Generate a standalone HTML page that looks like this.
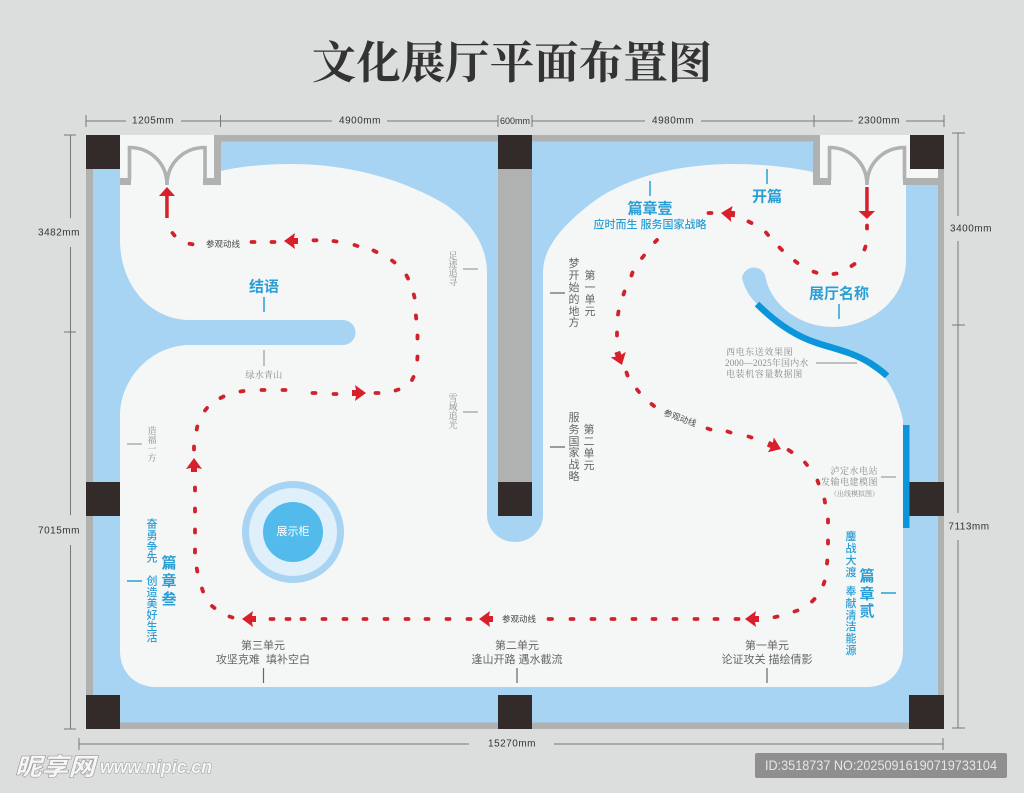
<!DOCTYPE html>
<html lang="zh"><head><meta charset="utf-8"><title>文化展厅平面布置图</title>
<style>
html,body{margin:0;padding:0;background:#dcdddd}
svg{display:block}
text{font-family:"Liberation Sans","Noto Sans CJK SC",sans-serif}
.dim{font-size:10px;letter-spacing:.5px;fill:#333;text-anchor:middle;dominant-baseline:central}
.bl{fill:#2a9fd6;font-weight:700;font-size:15px;text-anchor:middle;dominant-baseline:central}
.bs{fill:#2a9fd6;font-size:11px;font-weight:500;text-anchor:middle;dominant-baseline:central}
.g{fill:#666;font-size:11px}
.gc{text-anchor:middle;dominant-baseline:central}
.sf{font-family:"Liberation Serif","Noto Serif CJK SC",serif;fill:#8a8a8a;font-size:9px}
.rt{fill:#444;font-size:8.5px;text-anchor:middle;dominant-baseline:central}
</style></head><body>
<svg width="1024" height="793" viewBox="0 0 1024 793" xmlns="http://www.w3.org/2000/svg">
<rect width="1024" height="793" fill="#dcdddd"/>
<text x="512" y="63" text-anchor="middle" dominant-baseline="central" style="font-family:'Liberation Serif','Noto Serif CJK SC',serif;font-weight:700;font-size:44.500px" fill="#333">文化展厅平面布置图</text>

<!-- dimension lines -->
<g stroke="#777" stroke-width="1" fill="none">
<path d="M86 121H126M181 121H332M387 121H498M532 121H645M701 121H853M906 121H944"/>
<path d="M86 115v12M220.5 115v12M498 115v12M532 115v12M814 115v12M944 115v12"/>
<path d="M70.500 135V218M70.500 247V515M70.500 545V729M64 135H76M64 332H76M64 729H76"/>
<path d="M958 133V216M958 241V513M958 540V728M952 133H965M952 325H965M952 728H965"/>
<path d="M79 744H469M554 744H943M79 738v12M943 738v12"/>
</g>
<text class="dim" x="153" y="121">1205mm</text>
<text class="dim" x="360" y="121">4900mm</text>
<text class="dim" x="515" y="121" style="font-size:9px;letter-spacing:0">600mm</text>
<text class="dim" x="673" y="121">4980mm</text>
<text class="dim" x="879" y="121">2300mm</text>
<text class="dim" x="59" y="233">3482mm</text>
<text class="dim" x="59" y="531">7015mm</text>
<text class="dim" x="971" y="229">3400mm</text>
<text class="dim" x="969" y="527">7113mm</text>
<text class="dim" x="512" y="744">15270mm</text>

<!-- blue base -->
<rect x="86" y="135" width="858" height="594" fill="#a6d4f2"/>
<!-- floor -->
<path fill="#f5f6f6" d="M120 135L214 135L214 171L221 171C245 165 275 164 293 164C345 164 400 178 443 203C470 220 487 245 487 272L487 515A28 27 0 0 0 543 515L543 272C543 250 560 225 600 197C640 172 690 164 733 164C760 164 790 167 813 172L820 135L910 135L910 169L938 169L938 178L906 178L906 260C906 300 870 327 833 327C800 327 770 305 765 275A12 12 0 0 0 742 278C745 290 750 297 757 304C775 322 795 336 817 343C835 349 852 352 870 363C880 370 895 385 903 420L903 651C903 672 888 687 867 687L156 687C135 687 120 672 120 651L120 415C120 380 150 345 190 345L343 345A12.500 12.500 0 0 0 343 320L190 320C150 320 120 285 120 240Z"/>
<!-- walls -->
<g fill="#b0b1b1">
<rect x="221" y="135" width="277" height="6.500"/>
<rect x="532" y="135" width="281" height="6.500"/>
<rect x="86" y="169" width="7" height="526"/>
<rect x="938" y="169" width="6" height="526"/>
<rect x="120" y="722.500" width="790" height="6.500"/>
<rect x="498" y="169" width="34" height="313"/>
<rect x="214" y="135" width="7" height="50"/>
<rect x="120" y="178" width="11" height="7"/>
<rect x="203" y="178" width="18" height="7"/>
<rect x="813" y="135" width="7" height="50"/>
<rect x="813" y="178" width="18" height="7"/>
<rect x="903" y="178" width="41" height="7"/>
</g>
<!-- doors -->
<g fill="none" stroke="#b0b1b1" stroke-width="3.600">
<path d="M129.500 180V147.500C150 147.500 167 163 167 185C167 163 184 147.500 205 147.500V180"/>
<path d="M829.500 180V147.500C850 147.500 867 163 867 185C867 163 884 147.500 904.500 147.500V180"/>
</g>
<!-- pillars -->
<g fill="#332a2a">
<rect x="86" y="135" width="34" height="34"/><rect x="498" y="135" width="34" height="34"/><rect x="910" y="135" width="34" height="34"/>
<rect x="86" y="482" width="34" height="34"/><rect x="498" y="482" width="34" height="34"/><rect x="909" y="482" width="35" height="34"/>
<rect x="86" y="695" width="34" height="34"/><rect x="498" y="695" width="34" height="34"/><rect x="909" y="695" width="35" height="34"/>
</g>
<!-- bright blue walls -->
<path d="M757 304C775 322 795 336 817 343C835 349 852 352 870 363C876 367 882 371 887 376" fill="none" stroke="#0b96dc" stroke-width="6.500"/>
<rect x="903" y="425" width="6.500" height="103" fill="#0b96dc"/>
<!-- showcase -->
<circle cx="293" cy="532" r="51" fill="#a6d4f2"/>
<circle cx="293" cy="532" r="44" fill="#dff0fa"/>
<circle cx="293" cy="532" r="30" fill="#52bbec"/>
<text x="293" y="532" text-anchor="middle" dominant-baseline="central" fill="#fff" font-size="11">展示柜</text>

<!-- route dashes -->
<path fill="none" stroke="#d2202c" stroke-width="3.800" stroke-linecap="round" d="
M867 225.500v3M865.500 246.500l-1 3M854.500 264l-3 2M836.500 273.500l-3 .5M816.500 272.700l-3-1M797.500 263l-2.500-2M782 250l-2.500-2.500M768 235l-2-2.500M751.500 223l-3-1.500
M711.500 213h-3M657 240l-2 2M644 255.500l-2 2.500M632.500 272.500l-1 3M624.500 291.500l-1 3M618.500 311.500l-.5 3M617 332.500v3M626.500 372.500l1 3M637 389.500l2 2.500M651.500 404l2.500 2
M707.500 428.500l3 1M727.500 431.500l3 1M748.500 436.500l3 1M788.500 450l3 2M805 462.500l2 2.500M817.500 480.500l1 3M824.500 499.500l.5 3M828 519.500v3M828 540.500v3M827.300 560.500l-.3 3M824.500 581.500l-1 3M814.500 599l-2.500 2.500M797.500 610.500l-3 1M777.500 616.500l-3 .7
M738.500 619h-3M717.500 619h-3M697.500 619h-3M676.500 619h-3M655.500 619h-3M635.500 619h-3M614.500 619h-3M594.500 619h-3M573.500 619h-3M552 619h-3.500
M470.500 619h-3M449.500 619h-3M428.500 619h-3M408.500 619h-3M387.500 619h-3M366.500 619h-3M346.500 619h-3M325.500 619h-3M304.500 619h-3M289.500 619h-3M273.500 619h-3
M232.500 617.500l-3-1M214.500 608l-2.500-2M203 591.500l-1-3M197.300 571.500l-.5-3M195 552.500v-3M195 532.500v-3M195 511.500v-3M195 490.500v-3
M194 449.500v-3M196.700 429.500l.6-3M205 410.500l2-2.500M220.500 398l3-1.500M240.500 391.500l3-.5M261.500 390h3M282.500 390h3M312.500 393h3M333.500 394h3M375.500 393h3M395.500 390.500l3-1M412 380l1.500-3M417.300 359.500l.2-3M417.500 338.500v-3M416.200 318.500l-.3-3M414.500 297.500l-.7-3M408 278.500l-1.500-3M394.500 262.500l-2.500-2M376.500 252l-3-1.500M357.500 246l-3-1M336.500 241.500l-3-.5M316.500 240.300h-3
M274.500 242h-3M254.500 242h-3M192.500 244.300l-3-.5M174.500 235.500l-2-2.500"/>
<!-- arrowheads -->
<g fill="#d7202b">
<path transform="translate(284 241) rotate(180)" d="M0 0L-11-8L-10-3L-14-3L-14 3L-10 3L-11 8Z"/>
<path transform="translate(366 393)" d="M0 0L-11-8L-10-3L-14-3L-14 3L-10 3L-11 8Z"/>
<path transform="translate(194 458) rotate(-90)" d="M0 0L-11-8L-10-3L-14-3L-14 3L-10 3L-11 8Z"/>
<path transform="translate(242 619) rotate(180)" d="M0 0L-11-8L-10-3L-14-3L-14 3L-10 3L-11 8Z"/>
<path transform="translate(479 619) rotate(180)" d="M0 0L-11-8L-10-3L-14-3L-14 3L-10 3L-11 8Z"/>
<path transform="translate(745 619) rotate(180)" d="M0 0L-11-8L-10-3L-14-3L-14 3L-10 3L-11 8Z"/>
<path transform="translate(781 449) rotate(22)" d="M0 0L-11-8L-10-3L-14-3L-14 3L-10 3L-11 8Z"/>
<path transform="translate(622 365) rotate(70)" d="M0 0L-11-8L-10-3L-14-3L-14 3L-10 3L-11 8Z"/>
<path transform="translate(721 213) rotate(185)" d="M0 0L-11-8L-10-3L-14-3L-14 3L-10 3L-11 8Z"/>
<rect x="865.200" y="187" width="3.500" height="25"/>
<path d="M858.500 211H875L867 219Z"/>
<rect x="165.200" y="195" width="3.500" height="23"/>
<path d="M159 196H175L167 187Z"/>
</g>
<text class="rt" x="223" y="244">参观动线</text>
<text class="rt" x="519" y="619">参观动线</text>
<text class="rt" transform="translate(680 418) rotate(20)">参观动线</text>

<!-- blue labels -->
<text class="bl" x="767" y="197">开篇</text>
<text class="bl" x="650" y="209">篇章壹</text>
<text class="bs" x="650" y="225">应时而生 服务国家战略</text>
<text class="bl" x="839" y="294">展厅名称</text>
<text class="bl" x="264" y="287">结语</text>
<g stroke="#2a9fd0" stroke-width="1.500" fill="none">
<path d="M767 169V184M650 181V196M839 304V319M264 297V312M127 581H142M881 593H896"/>
</g>
<text class="bl"><tspan x="169" y="563">篇</tspan><tspan x="169" y="581">章</tspan><tspan x="169" y="599">叁</tspan></text>
<text class="bs"><tspan x="152" y="524.600">奋</tspan><tspan x="152" y="536">勇</tspan><tspan x="152" y="547.300">争</tspan><tspan x="152" y="558.600">先</tspan><tspan x="152" y="581.600">创</tspan><tspan x="152" y="592.900">造</tspan><tspan x="152" y="604.200">美</tspan><tspan x="152" y="615.500">好</tspan><tspan x="152" y="626.800">生</tspan><tspan x="152" y="638.100">活</tspan></text>
<text class="bl"><tspan x="867" y="576">篇</tspan><tspan x="867" y="594">章</tspan><tspan x="867" y="611">贰</tspan></text>
<text class="bs"><tspan x="851" y="537">鏖</tspan><tspan x="851" y="549">战</tspan><tspan x="851" y="561">大</tspan><tspan x="851" y="573">渡</tspan><tspan x="851" y="592">奉</tspan><tspan x="851" y="604">献</tspan><tspan x="851" y="616">清</tspan><tspan x="851" y="627">洁</tspan><tspan x="851" y="639">能</tspan><tspan x="851" y="651">源</tspan></text>

<!-- grey labels -->
<text class="g gc"><tspan x="574" y="264">梦</tspan><tspan x="574" y="276">开</tspan><tspan x="574" y="288">始</tspan><tspan x="574" y="300">的</tspan><tspan x="574" y="312">地</tspan><tspan x="574" y="323">方</tspan></text>
<text class="g gc"><tspan x="590" y="276">第</tspan><tspan x="590" y="288">一</tspan><tspan x="590" y="300">单</tspan><tspan x="590" y="312">元</tspan></text>
<text class="g gc"><tspan x="574" y="418">服</tspan><tspan x="574" y="430">务</tspan><tspan x="574" y="442">国</tspan><tspan x="574" y="453">家</tspan><tspan x="574" y="465">战</tspan><tspan x="574" y="477">略</tspan></text>
<text class="g gc"><tspan x="589" y="430">第</tspan><tspan x="589" y="442">二</tspan><tspan x="589" y="454">单</tspan><tspan x="589" y="466">元</tspan></text>
<text class="g gc" x="263" y="646">第三单元</text>
<text class="g gc" x="263" y="660">攻坚克难&#160;&#160;填补空白</text>
<text class="g gc" x="517" y="646">第二单元</text>
<text class="g gc" x="517" y="660">逢山开路 遇水截流</text>
<text class="g gc" x="767" y="646">第一单元</text>
<text class="g gc" x="767" y="660">论证攻关 描绘倩影</text>
<g stroke="#666" stroke-width="1.200" fill="none">
<path d="M550 293H565M550 447H565M263.500 668V683M517 668V683M767 668V683"/>
</g>
<g stroke="#8a8a8a" stroke-width="1" fill="none">
<path d="M264 350V366M463 269H478M463 412H478M127 444H142M816 363H857M881 477H896"/>
</g>
<text class="sf gc" x="264" y="375" style="letter-spacing:.3px">绿水青山</text>
<text class="sf gc"><tspan x="453" y="256">足</tspan><tspan x="453" y="264.500">迹</tspan><tspan x="453" y="273">追</tspan><tspan x="453" y="282">寻</tspan></text>
<text class="sf gc"><tspan x="453" y="398">雪</tspan><tspan x="453" y="407">域</tspan><tspan x="453" y="416">追</tspan><tspan x="453" y="425">光</tspan></text>
<text class="sf gc"><tspan x="152" y="431">造</tspan><tspan x="152" y="440">福</tspan><tspan x="152" y="449">一</tspan><tspan x="152" y="458">方</tspan></text>
<text class="sf" x="726" y="355" style="letter-spacing:.6px">西电东送效果图</text>
<text class="sf" x="725" y="366" style="letter-spacing:.2px">2000—2025年国内水</text>
<text class="sf" x="726" y="377" style="letter-spacing:.6px">电装机容量数据图</text>
<text class="sf" x="878" y="474" text-anchor="end" style="letter-spacing:.5px">泸定水电站</text>
<text class="sf" x="878" y="485" text-anchor="end" style="letter-spacing:.5px">发输电建模图</text>
<text class="sf" x="879" y="496" text-anchor="end" style="font-size:7px">（出线模拟图）</text>

<!-- watermark -->
<text x="15" y="775" style="font-weight:700;font-style:italic;font-size:24px;paint-order:stroke;stroke:#999;stroke-width:1.200px" fill="#f6f6f6" textLength="80" lengthAdjust="spacingAndGlyphs">昵享网</text>
<text x="100" y="773" style="font-weight:700;font-style:italic;font-size:18px;paint-order:stroke;stroke:#999;stroke-width:1px" fill="#f6f6f6" textLength="112" lengthAdjust="spacingAndGlyphs">www.nipic.cn</text>
<rect x="755" y="753" width="252" height="25" rx="2" fill="#8f8f8f"/>
<text x="765" y="770" font-size="14" fill="#e6e6e6" textLength="232" lengthAdjust="spacingAndGlyphs">ID:3518737 NO:20250916190719733104</text>
</svg>
</body></html>
